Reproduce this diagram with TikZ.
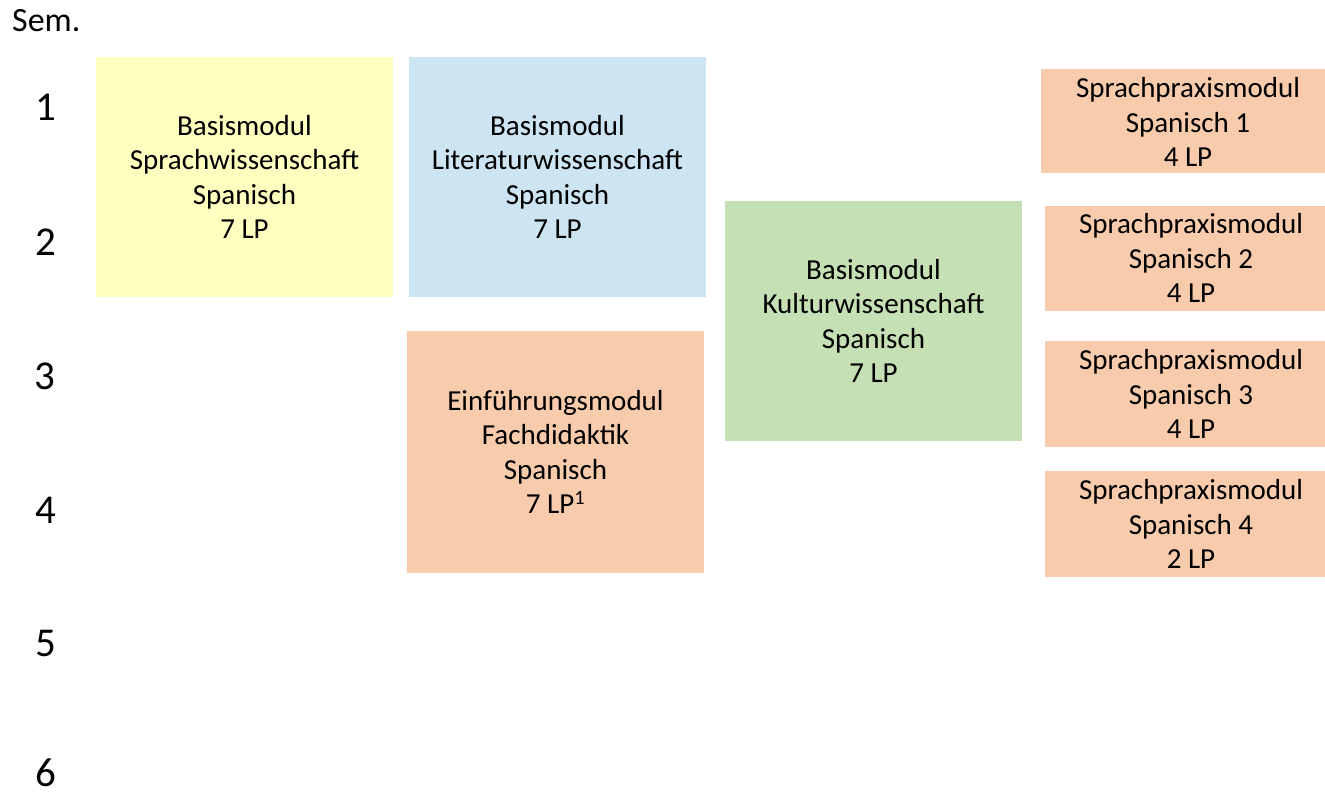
\documentclass[tikz,border=0pt]{standalone}
\usepackage{fontspec}
\setmainfont{Carlito}
\definecolor{cyellow}{HTML}{FFFFC0}
\definecolor{cblue}{HTML}{CDE4F2}
\definecolor{cgreen}{HTML}{C5E0B4}
\definecolor{corange}{HTML}{F8CBAD}
\begin{document}
\begin{tikzpicture}[x=1pt,y=-1pt,
  modbox/.style={inner sep=0pt, outer sep=0pt, align=center, text=black,
    font=\fontsize{29}{34.5}\selectfont},
  semnum/.style={font=\fontsize{41}{41}\selectfont, inner sep=0pt},
]
\useasboundingbox (0,0) rectangle (1325,792);
\node[anchor=west, inner sep=0pt, font=\fontsize{34}{34}\selectfont] (sem) at (12,21) {Sem.};
\node[semnum] (s1) at (46,107) {1};
\node[semnum] (s2) at (46,242) {2};
\node[semnum] (s3) at (45,376) {3};
\node[semnum] (s4) at (46,510) {4};
\node[semnum] (s5) at (46,643) {5};
\node[semnum] (s6) at (46,773) {6};

\fill[cyellow] (96,57) rectangle (393,297);
\node[modbox] (sw) at (244.5,177) {Basismodul\\Sprachwissenschaft\\Spanisch\\7 LP};

\fill[cblue] (409,57) rectangle (706,297);
\node[modbox] (lw) at (557.5,177) {Basismodul\\Literaturwissenschaft\\Spanisch\\7 LP};

\fill[corange] (407,331) rectangle (704,573);
\node[modbox] (fd) at (555.5,452) {Einführungsmodul\\Fachdidaktik\\Spanisch\\7 LP\textsuperscript{1}};

\fill[cgreen] (725,201) rectangle (1022,441);
\node[modbox] (kw) at (873.5,321) {Basismodul\\Kulturwissenschaft\\Spanisch\\7 LP};

\fill[corange] (1041,69) rectangle (1325,173);
\node[modbox] (sp1) at (1188,122) {Sprachpraxismodul\\Spanisch 1\\4 LP};
\fill[corange] (1045,206) rectangle (1325,311);
\node[modbox] (sp2) at (1191,258) {Sprachpraxismodul\\Spanisch 2\\4 LP};
\fill[corange] (1045,341) rectangle (1325,447);
\node[modbox] (sp3) at (1191,394) {Sprachpraxismodul\\Spanisch 3\\4 LP};
\fill[corange] (1045,471) rectangle (1325,577);
\node[modbox] (sp4) at (1191,524) {Sprachpraxismodul\\Spanisch 4\\2 LP};
\end{tikzpicture}
\end{document}
